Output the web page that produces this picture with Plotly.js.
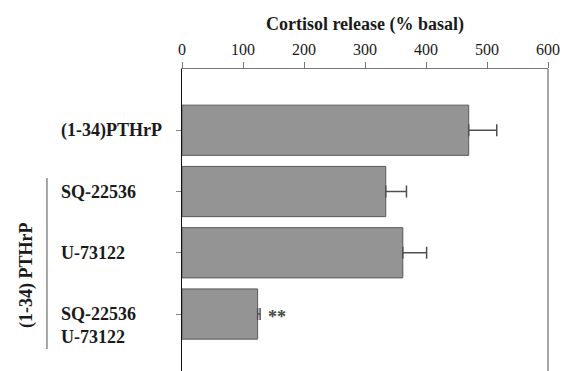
<!DOCTYPE html>
<html>
<head>
<meta charset="utf-8">
<script src="https://cdn.plot.ly/plotly-3.0.1.min.js"></script>
<style>html,body{margin:0;padding:0;background:#fff;}#chart{width:569px;height:371px;}</style>
</head>
<body>
<div id="chart"></div>
<script>
// Data
var categories = ['(1-34)PTHrP', 'SQ-22536', 'U-73122', 'SQ-22536 + U-73122'];
var labelLines = [['(1-34)PTHrP'], ['SQ-22536'], ['U-73122'], ['SQ-22536', 'U-73122']];
var values = [470, 334, 362, 124];
var errors = [46, 34, 39, 4];
var xTicks = [0, 100, 200, 300, 400, 500, 600];
var groupLabel = '(1-34) PTHrP';
var sigMark = '**';
var sigIndex = 3;
var xTitle = 'Cortisol release (% basal)';

var serif = '"Liberation Serif", "Times New Roman", Times, serif';

var trace = {
  type: 'bar',
  orientation: 'h',
  x: values,
  y: categories,
  marker: {color: '#949494', line: {color: '#5a5a5a', width: 1}},
  error_x: {type: 'data', symmetric: false, array: errors, arrayminus: errors.map(function () { return 0; }),
            visible: true, color: '#505050', thickness: 1.5, width: 6},
  hoverinfo: 'none'
};

var annotations = [];
labelLines.forEach(function (lines, i) {
  lines.forEach(function (txt, j) {
    annotations.push({
      xref: 'paper', yref: 'y', x: -0.336, y: categories[i],
      xanchor: 'left', yanchor: 'middle', yshift: -23 * j,
      text: txt, showarrow: false,
      font: {family: serif, size: 18, color: '#1a1a1a', weight: 'bold'}
    });
  });
});
annotations.push({
  xref: 'paper', yref: 'paper', x: -0.4235, y: 0.318,
  text: groupLabel, textangle: -90, showarrow: false,
  xanchor: 'center', yanchor: 'middle',
  font: {family: serif, size: 18, color: '#1a1a1a', weight: 'bold'}
});
annotations.push({
  xref: 'x', yref: 'y', x: values[sigIndex] + errors[sigIndex], y: categories[sigIndex],
  xanchor: 'left', yanchor: 'middle', xshift: 6, yshift: -3,
  text: sigMark, showarrow: false,
  font: {family: serif, size: 18, color: '#444', weight: 'bold'}
});

var layout = {
  width: 569, height: 371,
  margin: {l: 182, r: 21, t: 69, b: 0, pad: 0},
  paper_bgcolor: '#fff', plot_bgcolor: '#fff',
  showlegend: false,
  bargap: 0.18,
  xaxis: {
    side: 'top', range: [0, 600], tickvals: xTicks, ticktext: xTicks.map(String),
    showgrid: false, zeroline: false,
    showline: true, linecolor: '#777', linewidth: 1.2,
    ticks: 'outside', ticklen: 6, tickcolor: '#777', tickwidth: 1,
    tickfont: {family: serif, size: 16, color: '#1a1a1a'},
    title: {text: xTitle, font: {family: serif, size: 18, color: '#1a1a1a', weight: 'bold'}, standoff: 6},
    automargin: false, fixedrange: true
  },
  yaxis: {
    type: 'category', range: [3.93, -1],
    showgrid: false, zeroline: false,
    showline: true, linecolor: '#111', linewidth: 1.5,
    ticks: 'outside', ticklen: 5, tickcolor: '#888', tickwidth: 1,
    showticklabels: false, automargin: false, fixedrange: true
  },
  shapes: [
    {type: 'line', xref: 'paper', yref: 'paper', x0: 1, x1: 1, y0: 0, y1: 1, line: {color: '#888', width: 1.5}},
    {type: 'line', xref: 'paper', yref: 'paper', x0: -0.369, x1: -0.369, y0: 0.073, y1: 0.639, line: {color: '#888', width: 1.5}}
  ],
  annotations: annotations
};

Plotly.newPlot('chart', [trace], layout, {displayModeBar: false, staticPlot: true});
</script>
</body>
</html>
